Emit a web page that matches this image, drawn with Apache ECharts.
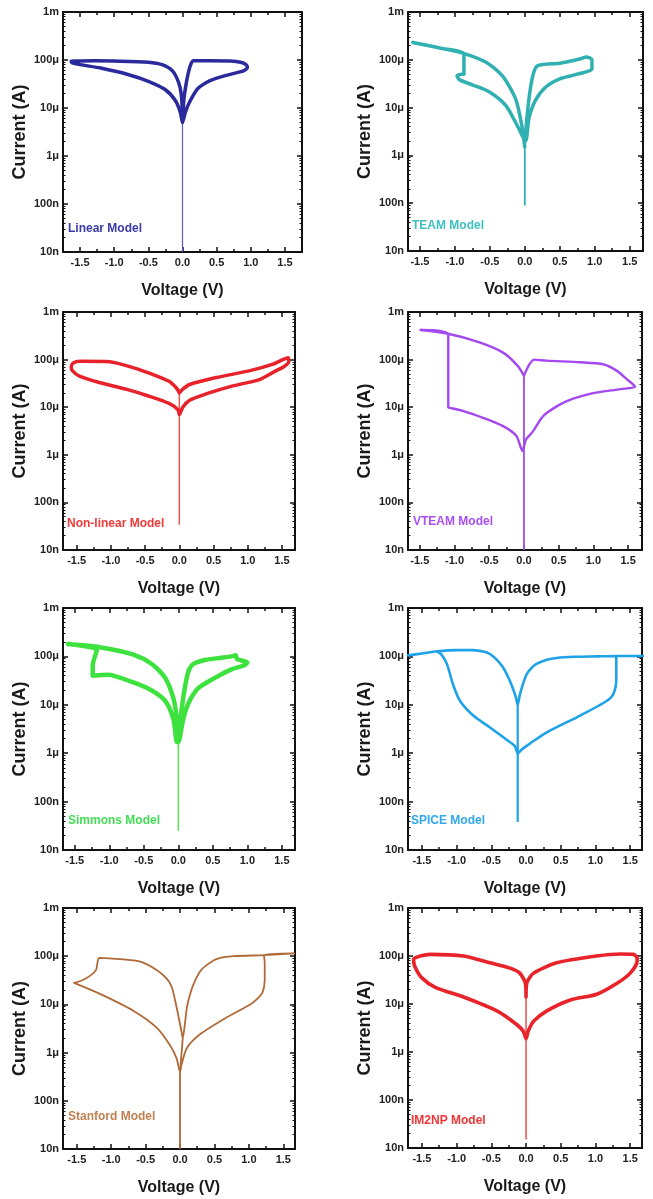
<!DOCTYPE html>
<html>
<head>
<meta charset="utf-8">
<script src="https://cdn.jsdelivr.net/npm/echarts@6.0.0/dist/echarts.min.js"></script>
<style>
  html, body { margin: 0; padding: 0; background: #fff; }
  #chart { width: 653px; height: 1199px; }
</style>
</head>
<body>
<div id="chart"></div>
<script>
// ticks
const xTicks = [-1.5, -1.0, -0.5, 0.0, 0.5, 1.0, 1.5];
const xMinorTicks = [-1.25, -0.75, -0.25, 0.25, 0.75, 1.25];
const yTicks = [1e-8, 1e-7, 1e-6, 1e-5, 1e-4, 1e-3];
const yTickLabels = ['10n', '100n', '1μ', '10μ', '100μ', '1m'];
const yMinorTicks = [];
for (let d = -8; d < -3; d++) for (let m = 2; m < 10; m++) yMinorTicks.push(m * Math.pow(10, d));

// [voltage (V), current (A)] traced along each loop
const linearLoop = [
  [0.0, 5e-6], [0.02, 1.5e-5], [0.05, 3e-5], [0.08, 5e-5], [0.12, 8e-5], [0.16, 9.6e-5], [0.4, 9.6e-5],
  [0.7, 9.5e-5], [0.85, 9e-5], [0.93, 8e-5], [0.95, 7e-5], [0.9, 6e-5], [0.74, 5.2e-5], [0.5, 4.2e-5],
  [0.35, 3.4e-5], [0.22, 2.5e-5], [0.1, 1.3e-5], [0.04, 8e-6], [0.0, 5e-6],
  [-0.03, 8e-6], [-0.1, 1.4e-5], [-0.25, 2.4e-5], [-0.5, 3.6e-5], [-0.8, 5e-5], [-1.2, 6.8e-5],
  [-1.5, 8e-5], [-1.62, 8.8e-5], [-1.63, 9.5e-5], [-1.3, 9.6e-5], [-1.0, 9.5e-5], [-0.5, 9e-5],
  [-0.3, 8e-5], [-0.15, 6e-5], [-0.06, 3.5e-5], [-0.02, 2e-5], [0.0, 8e-6]
];
const linearSpike = [[0.0, 5e-6], [0.0, 1e-8]];

const teamLoop = [
  [0.0, 1.8e-6], [0.03, 6e-6], [0.07, 2e-5], [0.12, 5e-5], [0.18, 7.5e-5], [0.5, 8.5e-5], [0.8, 1.05e-4],
  [0.88, 1.15e-4], [0.96, 1e-4], [0.96, 6.5e-5], [0.75, 5e-5], [0.5, 4e-5], [0.3, 2.7e-5], [0.15, 1.4e-5],
  [0.06, 6e-6], [0.01, 2e-6],
  [-0.1, 4e-6], [-0.27, 1.1e-5], [-0.5, 2.1e-5], [-0.75, 3e-5], [-0.93, 3.8e-5], [-0.97, 4.6e-5],
  [-0.9, 5e-5], [-0.87, 5e-5], [-0.87, 1.3e-4], [-1.2, 1.75e-4], [-1.6, 2.3e-4], [-1.2, 1.75e-4],
  [-0.9, 1.4e-4], [-0.56, 9e-5], [-0.32, 4.6e-5], [-0.13, 1.5e-5], [-0.04, 4e-6], [0.0, 1.5e-6]
];
const teamSpike = [[0.0, 2e-6], [0.0, 9e-8]];

const nonlinearLoop = [
  [0.0, 2e-5], [0.05, 2.4e-5], [0.15, 3e-5], [0.54, 4.2e-5], [1.02, 5.8e-5], [1.37, 8e-5], [1.51, 1e-4],
  [1.59, 1.1e-4], [1.6, 9e-5], [1.52, 7e-5], [1.41, 5.8e-5], [1.17, 3.8e-5], [0.78, 2.8e-5],
  [0.39, 1.9e-5], [0.15, 1.4e-5], [0.05, 1e-5], [0.0, 7e-6],
  [-0.02, 8.8e-6], [-0.15, 1.2e-5], [-0.44, 1.7e-5], [-0.78, 2.4e-5], [-1.17, 3.3e-5], [-1.46, 4.5e-5],
  [-1.56, 5.8e-5], [-1.58, 7e-5], [-1.55, 8.5e-5], [-1.45, 9.2e-5], [-1.02, 9e-5], [-0.68, 6.8e-5],
  [-0.39, 4.9e-5], [-0.15, 3.5e-5], [-0.04, 2.5e-5], [0.0, 2e-5]
];
const nonlinearSpike = [[0.0, 2e-5], [0.0, 3.4e-8]];

const vteamLoop = [
  [0.0, 4.6e-5], [0.08, 8e-5], [0.15, 1e-4], [0.32, 9.5e-5], [0.81, 8.8e-5], [1.14, 8e-5], [1.34, 5.8e-5],
  [1.48, 3.9e-5], [1.6, 2.7e-5], [1.39, 2.4e-5], [0.95, 1.9e-5], [0.57, 1.25e-5], [0.28, 6.6e-6],
  [0.13, 3.1e-6], [0.03, 2.1e-6], [0.0, 1.5e-6],
  [-0.02, 1.2e-6], [-0.11, 2.5e-6], [-0.3, 4e-6], [-0.59, 6e-6], [-0.88, 8.4e-6], [-1.08, 9.8e-6],
  [-1.09, 1e-5], [-1.09, 3.4e-4], [-1.49, 4.2e-4], [-1.09, 3.5e-4], [-0.64, 2.3e-4], [-0.3, 1.4e-4],
  [-0.09, 7.4e-5], [0.0, 4.6e-5]
];
const vteamSpike = [[0.0, 4.6e-5], [0.0, 1e-8]];

const simmonsLoop = [
  [0.0, 2e-6], [0.02, 3.8e-6], [0.07, 1.35e-5], [0.12, 3.5e-5], [0.16, 5.5e-5], [0.22, 7e-5],
  [0.4, 8.5e-5], [0.6, 9.3e-5], [0.77, 1e-4], [0.83, 1.05e-4], [0.85, 8.8e-5], [1.0, 7.5e-5],
  [0.95, 6.5e-5], [0.77, 5.4e-5], [0.53, 3.6e-5], [0.29, 2.2e-5], [0.15, 1.1e-5], [0.07, 5e-6],
  [0.02, 2e-6], [0.0, 1.7e-6],
  [-0.02, 1.7e-6], [-0.07, 5e-6], [-0.19, 1.2e-5], [-0.39, 2e-5], [-0.68, 3e-5], [-1.02, 4.2e-5],
  [-1.24, 4e-5], [-1.24, 6.5e-5], [-1.18, 1.35e-4], [-1.6, 1.8e-4], [-1.14, 1.55e-4], [-0.66, 1.1e-4],
  [-0.38, 6.9e-5], [-0.19, 3.6e-5], [-0.07, 1.35e-5], [-0.02, 5e-6], [0.0, 2e-6]
];
const simmonsSpike = [[0.0, 2e-6], [0.0, 2.5e-8]];

const spiceLoop = [
  [-1.7, 1.05e-4], [-1.5, 1.15e-4], [-1.28, 1.28e-4], [-1.0, 1.35e-4], [-0.76, 1.35e-4], [-0.6, 1.25e-4],
  [-0.52, 1.12e-4], [-0.42, 8.5e-5], [-0.33, 5.9e-5], [-0.26, 3.8e-5], [-0.21, 2.6e-5], [-0.15, 1.5e-5],
  [-0.12, 1e-5], [-0.09, 1.6e-5], [-0.04, 2.8e-5], [0.01, 4.3e-5], [0.08, 5.8e-5], [0.15, 7e-5],
  [0.3, 8.5e-5], [0.44, 9.3e-5], [0.7, 9.8e-5], [1.02, 1e-4], [1.3, 1.02e-4], [1.7, 1.02e-4],
  [1.3, 1.02e-4], [1.3, 3.5e-5], [1.26, 1.7e-5], [1.16, 1.2e-5], [0.78, 6e-6], [0.3, 2.7e-6],
  [0.06, 1.6e-6], [-0.06, 1.2e-6], [-0.12, 1e-6], [-0.16, 1.4e-6], [-0.28, 1.9e-6], [-0.52, 3.4e-6],
  [-0.76, 6e-6], [-0.95, 1.2e-5], [-1.05, 2.6e-5], [-1.14, 7e-5], [-1.22, 1.1e-4], [-1.28, 1.25e-4]
];
const spiceSpike = [[-0.12, 1e-5], [-0.12, 3.8e-8]];

const stanfordLoop = [
  [-1.54, 2.8e-5], [-1.41, 3.2e-5], [-1.29, 4.1e-5], [-1.22, 5.2e-5], [-1.2, 7.2e-5], [-1.18, 9.2e-5],
  [-1.17, 9.2e-5], [-0.59, 7.8e-5], [-0.34, 5.2e-5], [-0.2, 3.5e-5], [-0.12, 2.3e-5], [-0.05, 8.7e-6],
  [0.02, 2.8e-6], [0.04, 2e-6],
  [0.07, 3.9e-6], [0.1, 8.7e-6], [0.15, 1.7e-5], [0.2, 2.7e-5], [0.29, 4.8e-5], [0.39, 6.6e-5],
  [0.54, 8.8e-5], [0.78, 1e-4], [1.22, 1.05e-4], [1.66, 1.14e-4], [1.22, 1.05e-4], [1.23, 7.2e-5],
  [1.23, 3.2e-5], [1.2, 1.8e-5], [1.12, 1.3e-5], [1.02, 1e-5], [0.68, 5.4e-6], [0.29, 2.4e-6],
  [0.1, 1.25e-6], [0.02, 5.5e-7], [0.0, 4e-7],
  [-0.05, 7.6e-7], [-0.15, 1.45e-6], [-0.34, 3.3e-6], [-0.68, 7.4e-6], [-1.17, 1.67e-5], [-1.54, 2.8e-5]
];
const stanfordSpike = [[0.04, 2e-6], [0.0, 4e-7], [0.0, 1e-8]];

const im2npLoop = [
  [0.0, 1.4e-5], [0.01, 2.7e-5], [0.11, 4.4e-5], [0.44, 7.2e-5], [1.02, 1e-4], [1.36, 1.1e-4],
  [1.55, 1.08e-4], [1.6, 9e-5], [1.6, 7.8e-5], [1.5, 4.4e-5], [1.31, 2.7e-5], [1.02, 1.6e-5],
  [0.63, 1.2e-5], [0.3, 7.2e-6], [0.11, 4.4e-6], [0.03, 2.7e-6], [0.0, 1.9e-6],
  [-0.04, 2.7e-6], [-0.13, 3.7e-6], [-0.42, 7.2e-6], [-0.9, 1.4e-5], [-1.3, 2.2e-5], [-1.5, 3.5e-5],
  [-1.6, 6e-5], [-1.62, 8.5e-5], [-1.38, 1.08e-4], [-0.9, 1e-4], [-0.52, 7.2e-5], [-0.23, 5.6e-5],
  [-0.09, 4.4e-5], [-0.01, 2.7e-5], [0.0, 1.4e-5]
];
const im2npSpike = [[0.0, 1.4e-5], [0.0, 1.5e-8]];

const FONT = '"Liberation Sans", Arial, Helvetica, sans-serif';

const models = [
  { name: 'Linear Model', loop: linearLoop, spike: linearSpike, color: '#2a2a9c', text: '#3a3aaa', spikeColor: '#5c5cc8', w: 3.5, sw: 1.2, xr: [-1.75, 1.75], label: [68, 223] },
  { name: 'TEAM Model', loop: teamLoop, spike: teamSpike, color: '#30b0b0', text: '#40c0c0', spikeColor: '#30b0b0', w: 3.5, sw: 1.8, xr: [-1.67, 1.69], label: [412, 220] },
  { name: 'Non-linear Model', loop: nonlinearLoop, spike: nonlinearSpike, color: '#e8222a', text: '#f03a3a', spikeColor: '#ee4a4a', w: 3.5, sw: 1.4, xr: [-1.7, 1.69], label: [67, 518] },
  { name: 'VTEAM Model', loop: vteamLoop, spike: vteamSpike, color: '#a449f0', text: '#a850f5', spikeColor: '#a449f0', w: 2.4, sw: 1.8, xr: [-1.67, 1.7], label: [413, 516] },
  { name: 'Simmons Model', loop: simmonsLoop, spike: simmonsSpike, color: '#3ee23e', text: '#44dd55', spikeColor: '#50e650', w: 4.5, sw: 1.4, xr: [-1.67, 1.69], label: [68, 815] },
  { name: 'SPICE Model', loop: spiceLoop, spike: spiceSpike, color: '#1ea2e8', text: '#30a8ea', spikeColor: '#1ea2e8', w: 2.6, sw: 2.2, xr: [-1.7, 1.67], label: [411, 815] },
  { name: 'Stanford Model', loop: stanfordLoop, spike: stanfordSpike, color: '#b06a38', text: '#c08050', spikeColor: '#b06a38', w: 1.8, sw: 1.8, xr: [-1.7, 1.67], label: [68, 1111] },
  { name: 'IM2NP Model', loop: im2npLoop, spike: im2npSpike, color: '#e8242a', text: '#f03535', spikeColor: '#ee4040', w: 3.6, sw: 1.4, xr: [-1.7, 1.67], label: [411, 1115] }
];

const boxes = [
  { left: 63, top: 12, width: 239, height: 240 },
  { left: 408, top: 12, width: 235, height: 239 },
  { left: 63, top: 312, width: 232, height: 238 },
  { left: 408, top: 312, width: 234, height: 238 },
  { left: 63, top: 608, width: 232, height: 242 },
  { left: 408, top: 608, width: 234, height: 242 },
  { left: 63, top: 908, width: 232, height: 241 },
  { left: 408, top: 908, width: 234, height: 240 }
];

const frame = { show: true, onZero: false, lineStyle: { color: '#111', width: 2 } };
const noLine = { show: false, onZero: false };
const tickStyle = { color: '#111', width: 1.5 };
const minorStyle = { color: '#111', width: 1 };
const labelStyle = { color: '#222', fontSize: 11, fontWeight: 'bold', fontFamily: FONT };
const nameStyle = { color: '#1a1a1a', fontSize: 16, fontWeight: 'bold', fontFamily: FONT };

const grid = [], xAxis = [], yAxis = [], series = [], title = [];

models.forEach((m, i) => {
  grid.push(boxes[i]);
  const [xmin, xmax] = m.xr;
  const xBase = { gridIndex: i, type: 'value', min: xmin, max: xmax, splitLine: { show: false } };
  xAxis.push(
    { ...xBase, position: 'bottom', axisLine: frame,
      axisTick: { inside: true, length: 5, customValues: xTicks, lineStyle: tickStyle },
      axisLabel: { ...labelStyle, customValues: xTicks, margin: 5, formatter: v => v.toFixed(1) },
      name: 'Voltage (V)', nameLocation: 'middle', nameGap: 31, nameTextStyle: nameStyle },
    { ...xBase, position: 'top', axisLine: frame,
      axisTick: { inside: true, length: 5, customValues: xTicks, lineStyle: tickStyle },
      axisLabel: { show: false } },
    { ...xBase, position: 'bottom', axisLine: noLine,
      axisTick: { inside: true, length: 3, customValues: xMinorTicks, lineStyle: tickStyle },
      axisLabel: { show: false } },
    { ...xBase, position: 'top', axisLine: noLine,
      axisTick: { inside: true, length: 3, customValues: xMinorTicks, lineStyle: tickStyle },
      axisLabel: { show: false } }
  );
  const yBase = { gridIndex: i, type: 'log', logBase: 10, min: 1e-8, max: 1e-3, splitLine: { show: false } };
  yAxis.push(
    { ...yBase, position: 'left', axisLine: frame,
      axisTick: { inside: true, length: 5, customValues: yTicks, lineStyle: tickStyle },
      axisLabel: { ...labelStyle, customValues: yTicks, margin: 4,
        formatter: v => yTickLabels[Math.round(Math.log10(v)) + 8] },
      name: 'Current (A)', nameLocation: 'middle', nameGap: 34,
      nameTextStyle: { ...nameStyle, fontSize: 18 } },
    { ...yBase, position: 'right', axisLine: frame,
      axisTick: { inside: true, length: 5, customValues: yTicks, lineStyle: tickStyle },
      axisLabel: { show: false } },
    { ...yBase, position: 'left', axisLine: noLine,
      axisTick: { inside: true, length: 2.5, customValues: yMinorTicks, lineStyle: minorStyle },
      axisLabel: { show: false } },
    { ...yBase, position: 'right', axisLine: noLine,
      axisTick: { inside: true, length: 2.5, customValues: yMinorTicks, lineStyle: minorStyle },
      axisLabel: { show: false } }
  );
  series.push(
    { type: 'line', name: m.name + ' sweep', xAxisIndex: 4 * i, yAxisIndex: 4 * i, data: m.spike,
      showSymbol: false, symbol: 'none', z: 2,
      lineStyle: { color: m.spikeColor, width: m.sw } },
    { type: 'line', name: m.name, xAxisIndex: 4 * i, yAxisIndex: 4 * i, data: m.loop,
      showSymbol: false, symbol: 'none', z: 3, smooth: 0.25,
      lineStyle: { color: m.color, width: m.w, join: 'round', cap: 'round' } }
  );
  title.push({ text: m.name, left: m.label[0], top: m.label[1], padding: 0,
    textStyle: { color: m.text, fontSize: 12, fontWeight: 'bold', fontFamily: FONT } });
});

const chart = echarts.init(document.getElementById('chart'), null, { renderer: 'canvas' });
chart.setOption({
  backgroundColor: '#fff',
  animation: false,
  title, grid, xAxis, yAxis, series
});
</script>
</body>
</html>
